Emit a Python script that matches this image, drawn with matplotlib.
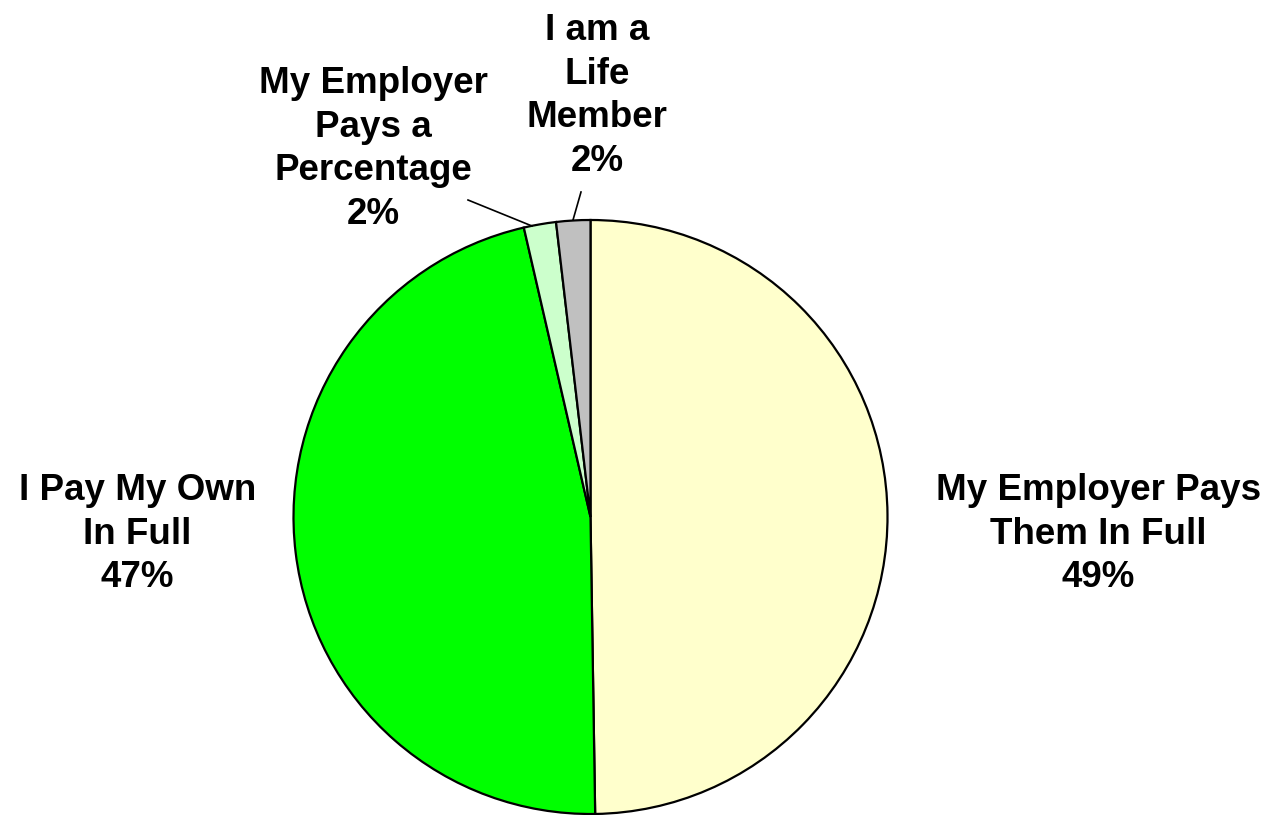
import matplotlib
matplotlib.use("Agg")
import matplotlib.pyplot as plt

categories = ["My Employer Pays\nThem In Full", "I Pay My Own\nIn Full",
              "My Employer\nPays a\nPercentage", "I am a\nLife\nMember"]
values = [49.7, 46.6, 1.75, 1.85]
pct_labels = ["49%", "47%", "2%", "2%"]
colors = ["#FFFFCC", "#00FF00", "#CCFFCC", "#C0C0C0"]

W, H = 1274, 815
fig = plt.figure(figsize=(W / 100, H / 100), dpi=100)
ax = fig.add_axes([0, 0, 1, 1])
ax.set_xlim(0, W)
ax.set_ylim(0, H)
ax.set_aspect("equal")
ax.axis("off")

cx, cy, r = 590.5, H - 517, 297
ax.pie(values, colors=colors, startangle=90, counterclock=False,
       center=(cx, cy), radius=r,
       wedgeprops=dict(edgecolor="black", linewidth=1.6))
ax.set_xlim(0, W)
ax.set_ylim(0, H)

font = dict(family="Liberation Sans", weight="bold", fontsize=26.5,
            ha="center", va="center", linespacing=1.31)
label_pos = [(1098.5, H - 534), (137.5, H - 534), (373, H - 149), (597, H - 96)]
for cat, pct, (x, y) in zip(categories, pct_labels, label_pos):
    ax.text(x, y, cat + "\n" + pct, **font)

# leader lines
ax.plot([468, 532], [H - 200, H - 226], color="black", lw=1.2)
ax.plot([581, 573], [H - 192, H - 220], color="black", lw=1.2)

fig.savefig("out.png", dpi=100)
